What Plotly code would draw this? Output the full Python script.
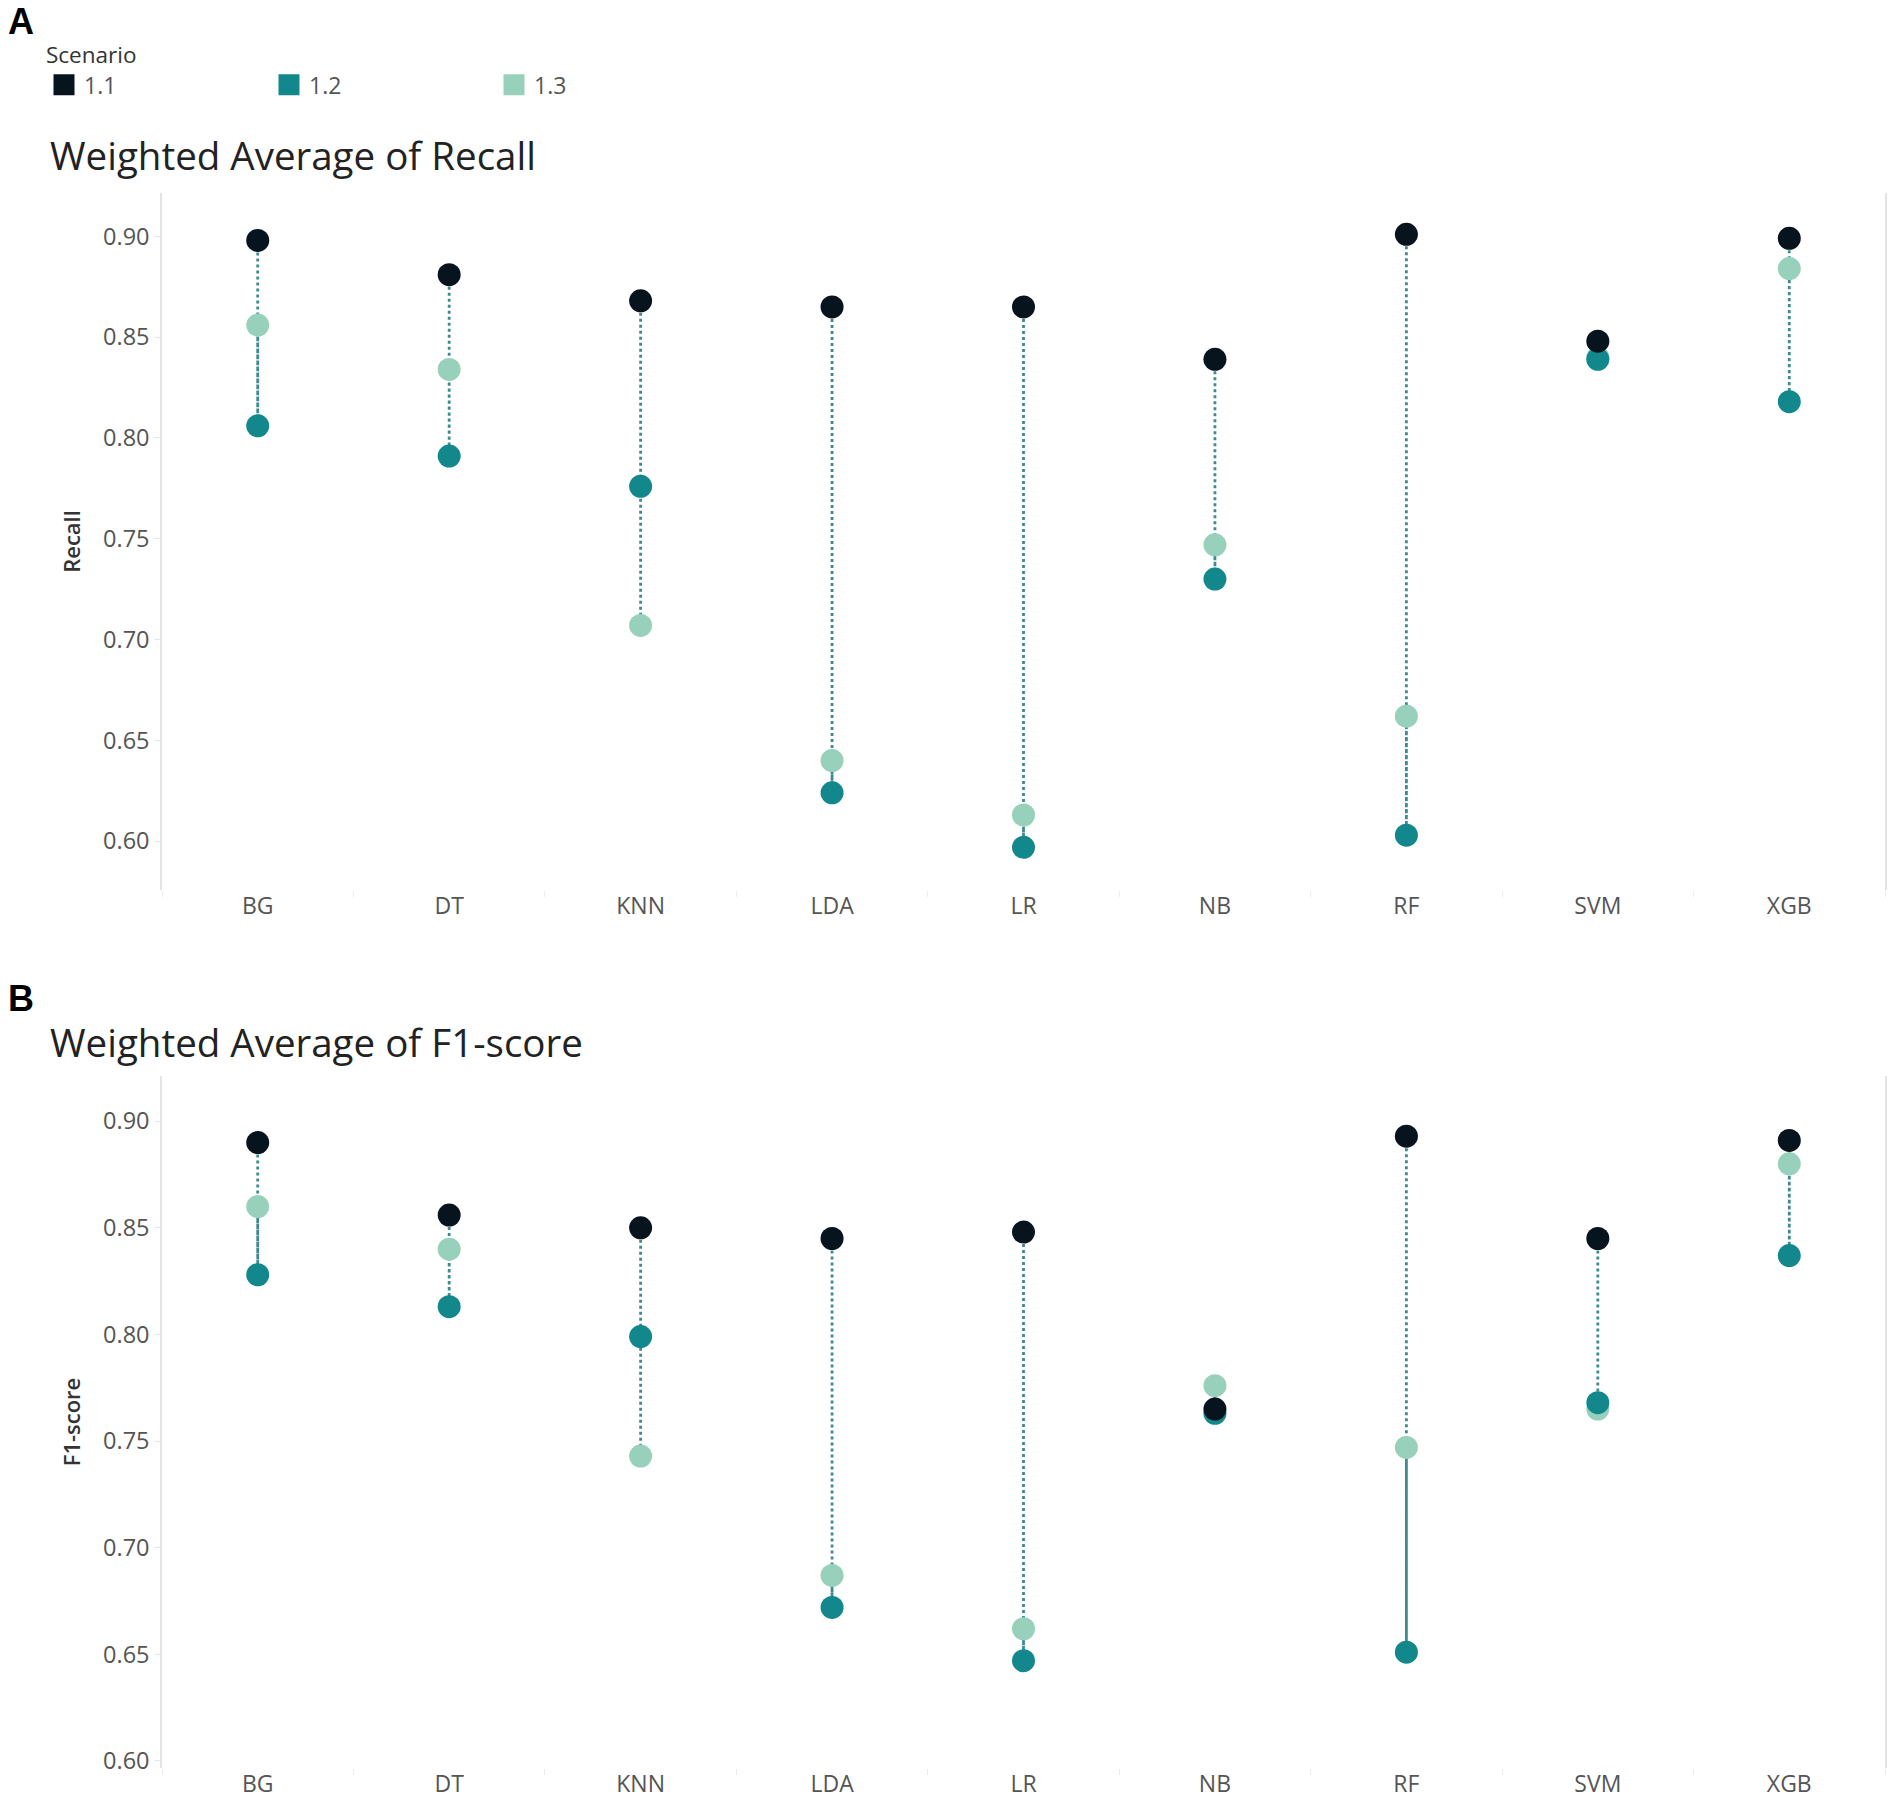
import plotly.graph_objects as go

# ---------------- data ----------------
categories = ["BG", "DT", "KNN", "LDA", "LR", "NB", "RF", "SVM", "XGB"]
scenarios = ["1.1", "1.2", "1.3"]

recall_11 = [0.898, 0.881, 0.868, 0.865, 0.865, 0.839, 0.901, 0.848, 0.899]
recall_12 = [0.806, 0.791, 0.776, 0.624, 0.597, 0.730, 0.603, 0.839, 0.818]
recall_13 = [0.856, 0.834, 0.707, 0.640, 0.613, 0.747, 0.662, 0.840, 0.884]

f1_11 = [0.890, 0.856, 0.850, 0.845, 0.848, 0.765, 0.893, 0.845, 0.891]
f1_12 = [0.828, 0.813, 0.799, 0.672, 0.647, 0.763, 0.651, 0.768, 0.837]
f1_13 = [0.860, 0.840, 0.743, 0.687, 0.662, 0.776, 0.747, 0.765, 0.880]

y_ticks = [0.60, 0.65, 0.70, 0.75, 0.80, 0.85, 0.90]

# ---------------- style ----------------
W, H = 1901, 1803
colors = {"1.1": "#07141d", "1.2": "#12888d", "1.3": "#97d1bc"}
line_color = "#3f8a90"
FONT = "Open Sans"


def px_x(p):
    return p / W


def px_y(p):
    return 1 - p / H


fig = go.Figure()

panels = [
    ("x", "y", {"1.1": recall_11, "1.2": recall_12, "1.3": recall_13}),
    ("x2", "y2", {"1.1": f1_11, "1.2": f1_12, "1.3": f1_13}),
]

for xa, ya, series in panels:
    # connecting dotted path 1.1 -> 1.2 -> 1.3 for each category
    lx, ly = [], []
    for i, c in enumerate(categories):
        for s in scenarios:
            lx.append(c)
            ly.append(series[s][i])
        lx.append(None)
        ly.append(None)
    fig.add_trace(go.Scatter(
        x=lx, y=ly, mode="lines", xaxis=xa, yaxis=ya,
        line=dict(color=line_color, width=2.8, dash="dot"),
        showlegend=False, hoverinfo="skip", connectgaps=False,
    ))
    # markers, drawn 1.3 first, 1.1 on top
    for s in ["1.3", "1.2", "1.1"]:
        fig.add_trace(go.Scatter(
            x=categories, y=series[s], mode="markers", xaxis=xa, yaxis=ya,
            marker=dict(color=colors[s], size=23, line=dict(width=0)),
            name=s, showlegend=False,
        ))

# legend entries (square swatches)
for s in scenarios:
    fig.add_trace(go.Scatter(
        x=[None], y=[None], mode="markers", name=s,
        marker=dict(symbol="square", color=colors[s], size=16,
                    line=dict(color=colors[s], width=5)),
        showlegend=True,
    ))

axis_line = "#e3e3e3"
common_x = dict(
    type="category", categoryorder="array", categoryarray=categories,
    range=[-0.5, len(categories) - 0.5],
    showgrid=False, zeroline=False, showline=False,
    tickson="boundaries", ticks="outside", ticklen=6, tickcolor="#ececec",
    tickfont=dict(family=FONT, size=23, color="#555555"),
    automargin=False, fixedrange=True,
)
common_y = dict(
    tickvals=y_ticks, ticktext=[f"{v:.2f}" for v in y_ticks],
    showgrid=False, zeroline=False, showline=True, mirror=True,
    linecolor=axis_line, linewidth=1.5,
    ticks="outside", ticklen=6, tickcolor="#e6e6e6",
    tickfont=dict(family=FONT, size=23.5, color="#555555"),
    automargin=False, fixedrange=True,
)
ytitle_font = dict(family=FONT, size=22, color="#333333", weight=600)

fig.update_layout(
    width=W, height=H,
    margin=dict(l=0, r=0, t=0, b=0),
    paper_bgcolor="white", plot_bgcolor="white",
    font=dict(family=FONT, color="#333333"),
    xaxis=dict(common_x, domain=[px_x(162), px_x(1885)], anchor="y"),
    yaxis=dict(common_y, domain=[px_y(890), px_y(193)], anchor="x",
               range=[0.5758, 0.9215],
               title=dict(text="Recall", standoff=16, font=ytitle_font)),
    xaxis2=dict(common_x, domain=[px_x(162), px_x(1885)], anchor="y2"),
    yaxis2=dict(common_y, domain=[px_y(1768), px_y(1076)], anchor="x2",
                range=[0.5967, 0.9212],
                title=dict(text="F1-score", standoff=16, font=ytitle_font)),
    showlegend=True,
    legend=dict(
        orientation="h", x=px_x(44), y=px_y(34), xanchor="left", yanchor="top",
        title=dict(text="Scenario", side="top",
                   font=dict(family=FONT, size=22.5, color="#333333")),
        font=dict(family=FONT, size=23, color="#555555"),
        entrywidth=180, entrywidthmode="pixels",
        itemwidth=30, tracegroupgap=0,
        bgcolor="rgba(0,0,0,0)",
    ),
    annotations=[
        dict(text="<b>A</b>", x=px_x(6), y=px_y(22), xref="paper", yref="paper",
             xanchor="left", yanchor="middle", showarrow=False,
             font=dict(family="Liberation Sans", size=36, color="#000000")),
        dict(text="<b>B</b>", x=px_x(6), y=px_y(999), xref="paper", yref="paper",
             xanchor="left", yanchor="middle", showarrow=False,
             font=dict(family="Liberation Sans", size=36, color="#000000")),
        dict(text="Weighted Average of Recall", x=px_x(48), y=px_y(155),
             xref="paper", yref="paper", xanchor="left", yanchor="middle",
             showarrow=False,
             font=dict(family=FONT, size=38.5, color="#222222")),
        dict(text="Weighted Average of F1-score", x=px_x(48), y=px_y(1042),
             xref="paper", yref="paper", xanchor="left", yanchor="middle",
             showarrow=False,
             font=dict(family=FONT, size=38.5, color="#222222")),
    ],
)

fig.write_html("out.html",
               config={"displayModeBar": False},
               post_script="document.body.style.margin='0';document.body.style.padding='0';")
